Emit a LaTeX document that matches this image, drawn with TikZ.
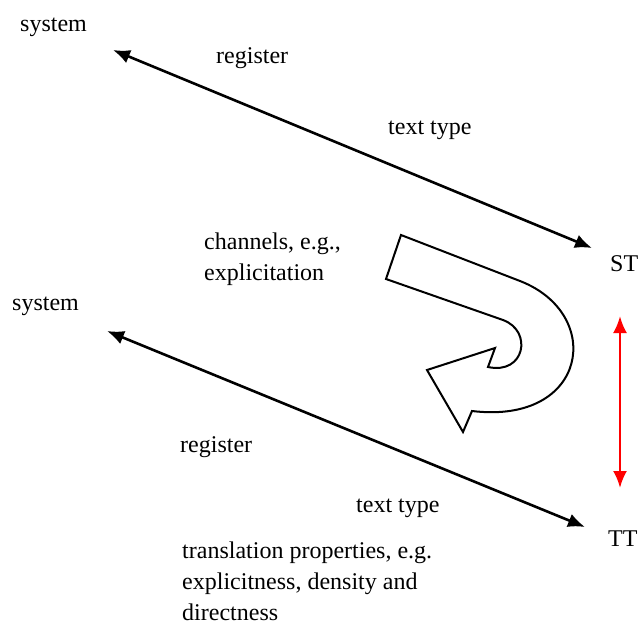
\documentclass[tikz,border=0pt]{standalone}
\usepackage{fontspec}
\setmainfont{Liberation Serif}
\usetikzlibrary{arrows.meta}
\begin{document}
\begin{tikzpicture}[x=1pt, y=-1pt,
  lbl/.style={anchor=base west, inner sep=0pt, align=left,
              font=\fontsize{24}{31}\selectfont},
  rel/.style={line width=2.6pt, {Latex[length=17pt,width=14pt]}-{Latex[length=17pt,width=14pt]}},
  eqv/.style={rel, red},
  turn/.style={draw, line width=2pt, fill=white, line join=miter},
]
  \useasboundingbox (0,0) rectangle (638,625);

  % source text side
  \node[lbl] (sysa) at (20,31)  {system};
  \node[lbl] (rega) at (216,63) {register};
  \node[lbl] (typa) at (388,134) {text type};
  \node[lbl] (st)   at (610,271) {ST};
  \coordinate (sa) at (113,50);
  \coordinate (sb) at (592,248);
  \draw[rel] (sa) -- (sb);

  % target text side
  \node[lbl] (sysb) at (12,310)  {system};
  \node[lbl] (regb) at (180,452) {register};
  \node[lbl] (typb) at (356,512) {text type};
  \node[lbl] (tt)   at (608,546) {TT};
  \coordinate (ta) at (107,331);
  \coordinate (tb) at (585,527);
  \draw[rel] (ta) -- (tb);

  % ST <-> TT
  \coordinate (ea) at (620,316);
  \coordinate (eb) at (620,488);
  \draw[eqv] (ea) -- (eb);

  % turning arrow
  \draw[turn] (401,235) -- (520,281)
    .. controls (605,314) and (588,425) .. (472,411)
    -- (463,432) -- (427,370) -- (495,348) -- (488,367)
    .. controls (525,375) and (533,331) .. (503,320)
    -- (386,279) -- cycle;

  \node[lbl] (chan) at (204,280) {channels, e.g.,\\explicitation};
  \node[lbl] (prop) at (182,620) {translation properties, e.g.\\explicitness, density and\\directness};
\end{tikzpicture}
\end{document}
